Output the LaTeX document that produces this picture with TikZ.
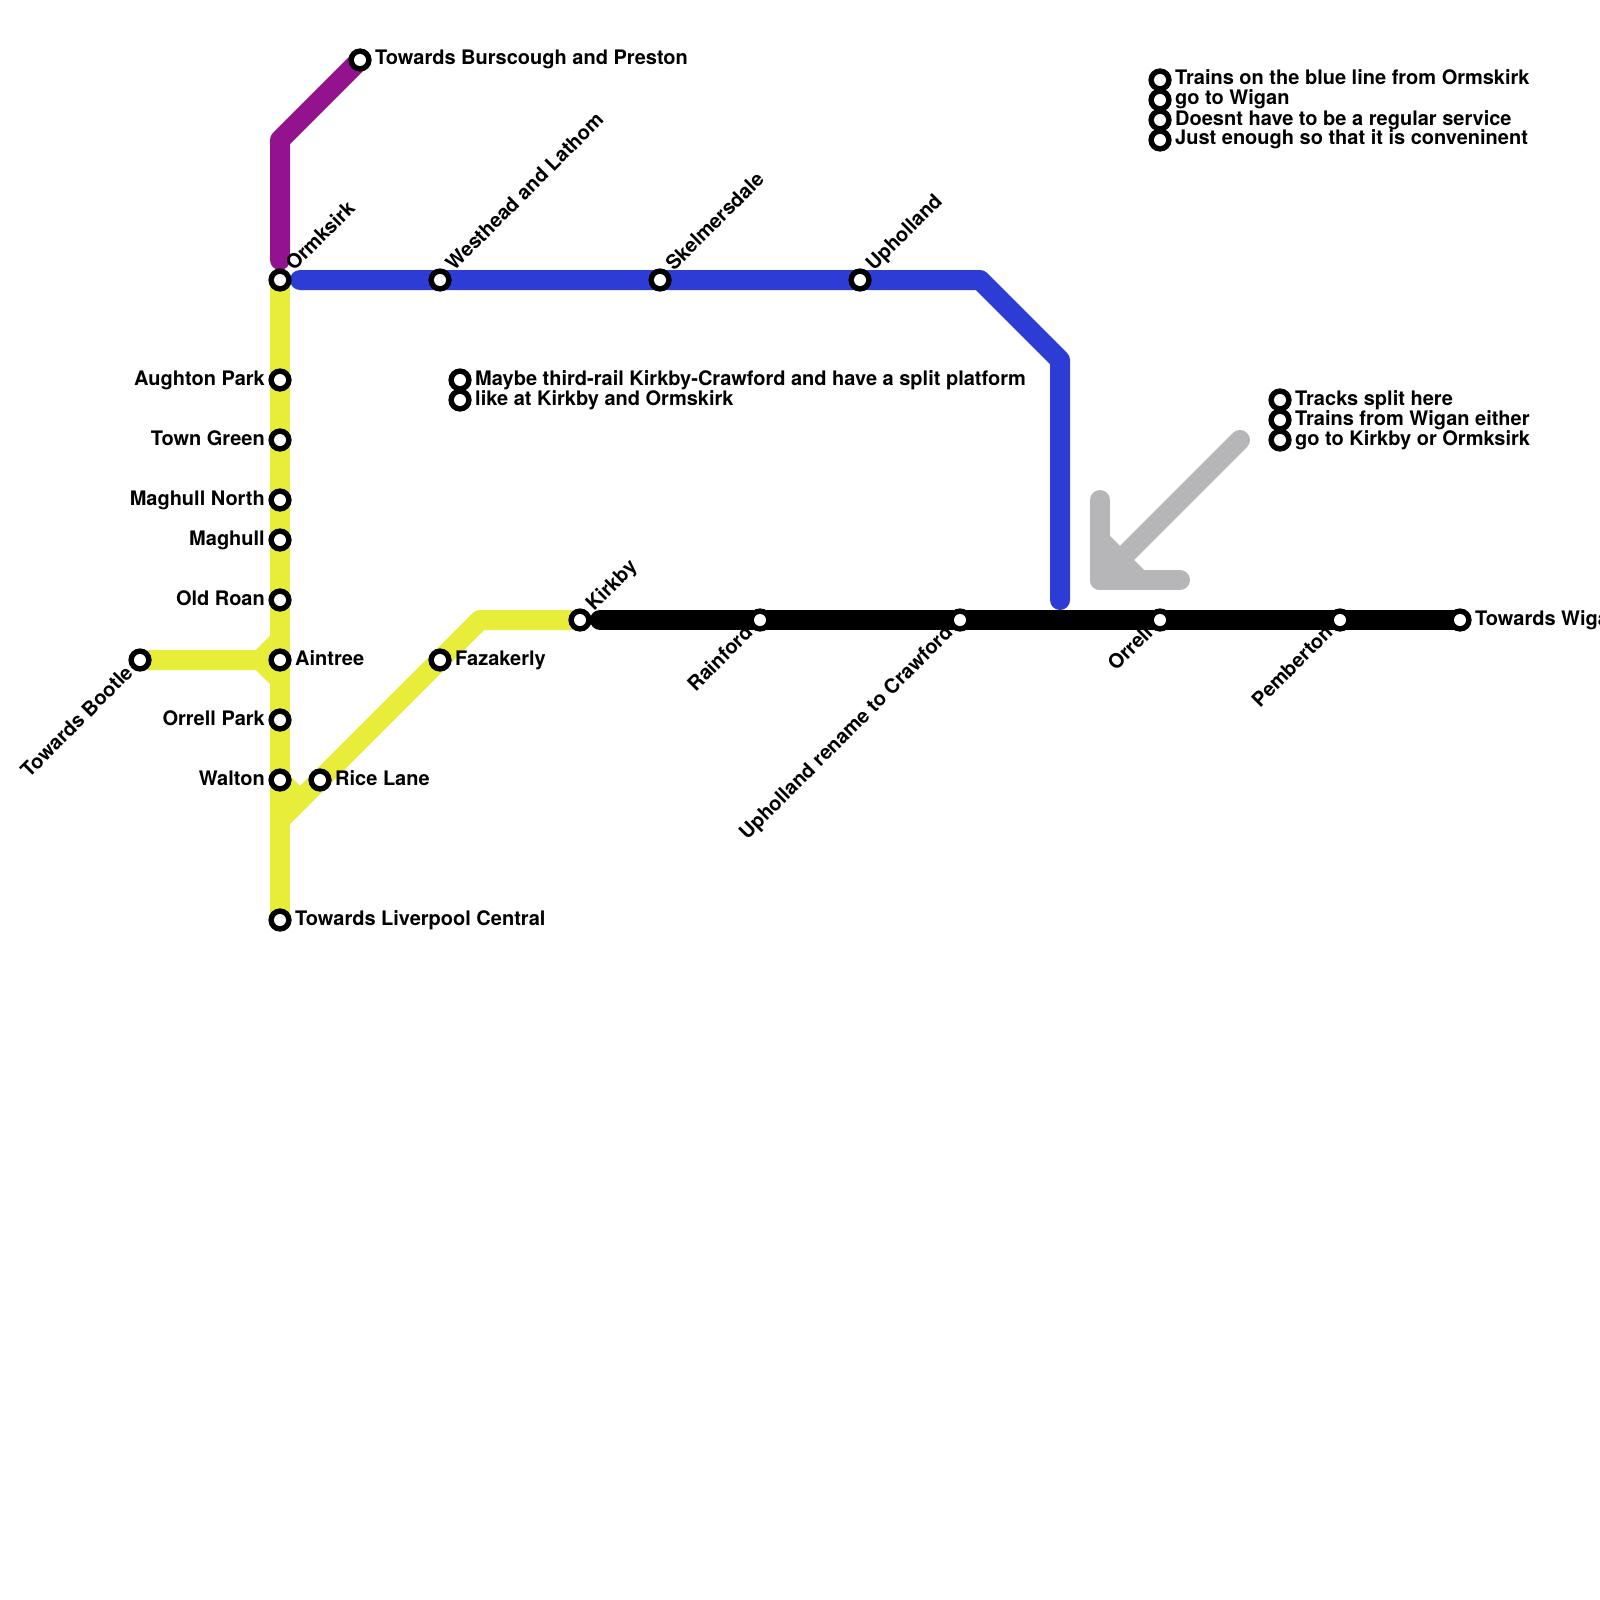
\documentclass[tikz,border=0pt]{standalone}
\usepackage{fontspec}
\setmainfont{TeX Gyre Heros}
\usetikzlibrary{backgrounds}
\definecolor{lineyellow}{HTML}{E8ED3A}
\definecolor{linepurple}{HTML}{93138F}
\definecolor{lineblue}{HTML}{2D3CD5}
\definecolor{linegrey}{HTML}{B6B6B8}
\tikzset{
  stn/.style={circle,draw=black,fill=white,line width=5.7pt,inner sep=0pt,outer sep=0pt,minimum size=23.3pt,draw=none,fill=black,
    path picture={\fill[white] (path picture bounding box.center) circle (6pt);}},
  track/.style={line width=20pt,line cap=round,line join=round},
  lbl/.style={inner sep=0pt,font=\bfseries\fontsize{20}{20}\selectfont,text=black},
  lblr/.style={lbl,anchor=base west},
  lbll/.style={lbl,anchor=base east},
  lblup/.style={lbl,anchor=base west,rotate=45},
  lbldn/.style={lbl,anchor=base east,rotate=45},
}
\begin{document}
\begin{tikzpicture}[x=1pt,y=-1pt]
\useasboundingbox (0,0) rectangle (1600,1600);
% stations
\node[stn] (ormskirk) at (280,280) {};
\node[stn] (aughton) at (280,380) {};
\node[stn] (towngreen) at (280,440) {};
\node[stn] (maghulln) at (280,500) {};
\node[stn] (maghull) at (280,540) {};
\node[stn] (oldroan) at (280,600) {};
\node[stn] (aintree) at (280,660) {};
\node[stn] (orrellpark) at (280,720) {};
\node[stn] (walton) at (280,780) {};
\node[stn] (liverpool) at (280,920) {};
\node[stn] (bootle) at (140,660) {};
\node[stn] (ricelane) at (320,780) {};
\node[stn] (fazakerly) at (440,660) {};
\node[stn] (kirkby) at (580,620) {};
\node[stn] (burscough) at (360,60) {};
\node[stn] (westhead) at (440,280) {};
\node[stn] (skelmersdale) at (660,280) {};
\node[stn] (upholland) at (860,280) {};
\node[stn] (rainford) at (760,620) {};
\node[stn] (crawford) at (960,620) {};
\node[stn] (orrell) at (1160,620) {};
\node[stn] (pemberton) at (1340,620) {};
\node[stn] (wigan) at (1460,620) {};
\node[stn] (noteA) at (1160,80) {};
\node[stn] (noteB) at (1160,100) {};
\node[stn] (noteC) at (1160,120) {};
\node[stn] (noteD) at (1160,140) {};
\node[stn] (noteE) at (460,380) {};
\node[stn] (noteF) at (460,400) {};
\node[stn] (noteG) at (1280,400) {};
\node[stn] (noteH) at (1280,420) {};
\node[stn] (noteI) at (1280,440) {};
% labels
\node[lblup] (lOrm) at (294,272) {Ormksirk};
\node[lblup] (lWes) at (454,272) {Westhead and Lathom};
\node[lblup] (lSke) at (674,272) {Skelmersdale};
\node[lblup] (lUph) at (874,272) {Upholland};
\node[lblup] (lKir) at (594,612) {Kirkby};
\node[lbll] (lAug) at (265,385) {Aughton Park};
\node[lbll] (lTow) at (265,445) {Town Green};
\node[lbll] (lMaN) at (265,505) {Maghull North};
\node[lbll] (lMag) at (265,545) {Maghull};
\node[lbll] (lOld) at (265,605) {Old Roan};
\node[lbll] (lOrP) at (265,725) {Orrell Park};
\node[lbll] (lWal) at (265,785) {Walton};
\node[lblr] (lAin) at (295,665) {Aintree};
\node[lblr] (lRic) at (335,785) {Rice Lane};
\node[lblr] (lFaz) at (455,665) {Fazakerly};
\node[lblr] (lLiv) at (295,925) {Towards Liverpool Central};
\node[lblr] (lBur) at (375,65) {Towards Burscough and Preston};
\node[lblr] (lWig) at (1475,625) {Towards Wigan};
\node[lbldn] (lBoo) at (134,674) {Towards Bootle};
\node[lbldn] (lRai) at (754,634) {Rainford};
\node[lbldn] (lCra) at (954,634) {Upholland rename to Crawford};
\node[lbldn] (lOre) at (1154,634) {Orrell};
\node[lbldn] (lPem) at (1334,634) {Pemberton};
\node[lblr] (tA) at (1175,85) {Trains on the blue line from Ormskirk};
\node[lblr] (tB) at (1175,105) {go to Wigan};
\node[lblr] (tC) at (1175,125) {Doesnt have to be a regular service};
\node[lblr] (tD) at (1175,145) {Just enough so that it is conveninent};
\node[lblr] (tE) at (475,385) {Maybe third-rail Kirkby-Crawford and have a split platform};
\node[lblr] (tF) at (475,405) {like at Kirkby and Ormskirk};
\node[lblr] (tG) at (1295,405) {Tracks split here};
\node[lblr] (tH) at (1295,425) {Trains from Wigan either};
\node[lblr] (tI) at (1295,445) {go to Kirkby or Ormksirk};
% waypoints
\coordinate (jBootle) at (260,660);
\coordinate (jUp) at (280,640);
\coordinate (jDown) at (280,680);
\coordinate (jRice) at (300,800);
\coordinate (jMerge) at (280,820);
\coordinate (bendKirkby) at (480,620);
\coordinate (bendPurple) at (280,140);
\coordinate (endPurple) at (280,260);
\coordinate (startBlue) at (300,280);
\coordinate (bendBlueA) at (980,280);
\coordinate (bendBlueB) at (1060,360);
\coordinate (endBlue) at (1060,600);
\coordinate (startBlack) at (600,620);
\coordinate (greyTail) at (1240,440);
\coordinate (greyTip) at (1100,580);
\coordinate (greyUp) at (1100,500);
\coordinate (greyRight) at (1180,580);
\coordinate (greyA) at (1100,540);
\coordinate (greyB) at (1140,580);
% tracks
\begin{scope}[on background layer]
\fill[white] (0,0) rectangle (1600,1600);
\draw[track,lineyellow] (ormskirk.center) -- (liverpool.center);
\draw[track,lineyellow] (bootle.center) -- (jBootle) -- (jUp);
\draw[track,lineyellow] (jBootle) -- (jDown);
\draw[track,lineyellow] (kirkby.center) -- (bendKirkby) -- (jMerge);
\draw[track,lineyellow] (walton.center) -- (jRice);
\draw[track,linepurple] (burscough.center) -- (bendPurple) -- (endPurple);
\draw[track,lineblue] (startBlue) -- (bendBlueA) -- (bendBlueB) -- (endBlue);
\draw[track,black] (startBlack) -- (wigan.center);
\draw[track,linegrey] (greyTail) -- (greyTip);
\draw[track,linegrey] (greyUp) -- (greyTip) -- (greyRight);
\draw[track,linegrey] (greyA) -- (greyB);
\end{scope}
\end{tikzpicture}
\end{document}
